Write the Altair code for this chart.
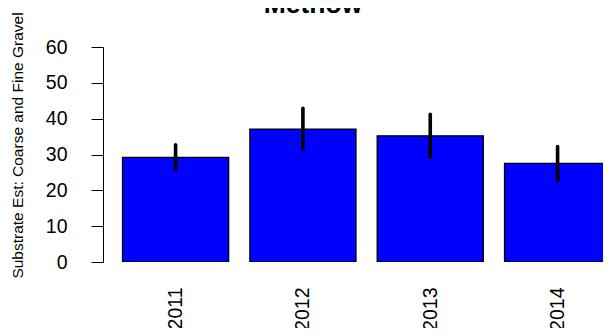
import altair as alt
import pandas as pd

years = ["2011", "2012", "2013", "2014"]
means = [29.2, 37.1, 35.2, 27.5]
lows = [25.7, 31.5, 29.2, 22.7]
highs = [32.7, 42.9, 41.2, 32.2]
y_ticks = [0, 10, 20, 30, 40, 50, 60]
title_text = ["Methow"]

# R barplot layout: bar width 1, space 0.2
lefts = [0.2 + 1.2 * i for i in range(len(years))]
rights = [l + 1.0 for l in lefts]
centers = [l + 0.5 for l in lefts]

df = pd.DataFrame({"year": years, "mean": means, "lo": lows, "hi": highs,
                   "left": lefts, "right": rights, "center": centers})

FONT = "Liberation Sans"

label_expr = " : ".join(
    f"abs(datum.value - {c:.3f}) < 0.01 ? '{y}'" for c, y in zip(centers, years)
) + " : ''"

x_axis = alt.Axis(
    title=None,
    values=centers,
    domain=False,
    ticks=False,
    tickSize=0,
    grid=False,
    labelExpr=label_expr,
    labelAngle=270,
    labelAlign="right",
    labelBaseline="middle",
    labelPadding=25,
    labelFontSize=19.5,
    labelFont=FONT,
    labelColor="black",
    labelOverlap=False,
)
x_scale = alt.Scale(domain=[0.016, 4.728], nice=False, zero=False)

y_scale = alt.Scale(domain=[0, 60], nice=False, zero=True)
y_axis = alt.Axis(
    values=y_ticks,
    grid=False,
    labelOverlap=False,
    domainColor="black",
    domainWidth=1,
    tickColor="black",
    tickWidth=1,
    tickSize=12,
    labelPadding=24,
    labelFontSize=19.5,
    labelFont=FONT,
    labelColor="black",
    title="Substrate Est: Coarse and Fine Gravel",
    titleFont=FONT,
    titleFontSize=15.5,
    titleFontWeight="normal",
    titleColor="black",
    titleAngle=270,
    titleAlign="center",
    titleBaseline="alphabetic",
    titleX=-81,
    titleY=98,
)

bars = alt.Chart(df).mark_bar(
    fill="#0000FF", stroke="black", strokeWidth=1.3, clip=True
).encode(
    x=alt.X("left:Q", scale=x_scale, axis=x_axis),
    x2="right:Q",
    y=alt.Y("mean:Q", scale=y_scale, axis=y_axis),
    y2=alt.datum(0),
)

errs = alt.Chart(df).mark_rule(
    color="black", strokeWidth=3.6, strokeCap="round"
).encode(
    x=alt.X("center:Q", scale=x_scale, axis=x_axis),
    y=alt.Y("lo:Q", scale=y_scale, axis=y_axis),
    y2="hi:Q",
)

title = alt.Chart(pd.DataFrame({"t": title_text})).mark_text(
    font=FONT, fontSize=26.5, fontWeight="bold", color="black",
    align="center", baseline="alphabetic",
).encode(text="t:N", x=alt.value(210), y=alt.value(-34))

chart = alt.layer(bars, errs, title).properties(
    width=500,
    height=215,
    autosize=alt.AutoSizeParams(type="none"),
    padding={"left": 95, "top": 39, "right": 0, "bottom": 66},
).configure(background="white").configure_view(stroke=None)

chart.save("out.html", embed_options={"renderer": "svg", "actions": False})
